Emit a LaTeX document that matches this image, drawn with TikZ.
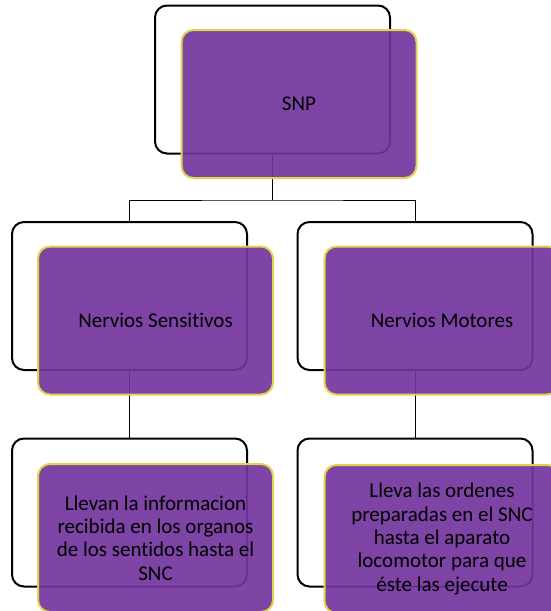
\documentclass[tikz,border=0pt]{standalone}
\usepackage{fontspec}
\setmainfont{Carlito}[Ligatures=NoCommon]
\usepackage{tikz}
\usetikzlibrary{positioning}
\definecolor{boxfill}{RGB}{115,53,158}
\definecolor{boxedge}{RGB}{224,212,74}

\begin{document}
\begin{tikzpicture}[x=1pt,y=-1pt,
		back/.style={rectangle,rounded corners=12pt,draw=black,line width=2pt,fill=white,minimum width=235pt,minimum height=148pt},
		front/.style={rectangle,rounded corners=12pt,draw=boxedge,line width=2pt,fill=boxfill,fill opacity=0.92,text opacity=1,minimum width=235pt,minimum height=148pt,align=center,font=\fontsize{21}{23.4}\selectfont},
		link/.style={line width=1pt,black}]
		\useasboundingbox (0,0) rectangle (551,611);
		\clip (0,0) rectangle (551,611);
		% outlines behind
		\node (snpback) [back] at (272.5,79.5) {};
		\node (sensback) [back] at (129.5,296) {};
		\node (motback) [back] at (415,296) {};
		\node (infoback) [back] at (129.5,512.5) {};
		\node (ordback) [back] at (415,512.5) {};
		% connectors
		\coordinate (split) at (272.5,200);
		\draw [link] (snpback.south) -- (split);
		\draw [link] (sensback.north) |- (split) -| (motback.north);
		\draw [link] (sensback.south) -- (infoback.north);
		\draw [link] (motback.south) -- (ordback.north);
		% filled boxes
		\node (snp) [front] at (299,104) {SNP};
		\node (sens) [front] at (155.5,320.5) {Nervios Sensitivos};
		\node (mot) [front] at (442,320.5) {Nervios Motores};
		\node (info) [front] at (155.5,538) {Llevan la informacion\\recibida en los organos\\de los sentidos hasta el\\SNC};
		\node (ord) [front] at (442,539) {Lleva las ordenes\\preparadas en el SNC\\hasta el aparato\\locomotor para que\\éste las ejecute};
\end{tikzpicture}
\end{document}
